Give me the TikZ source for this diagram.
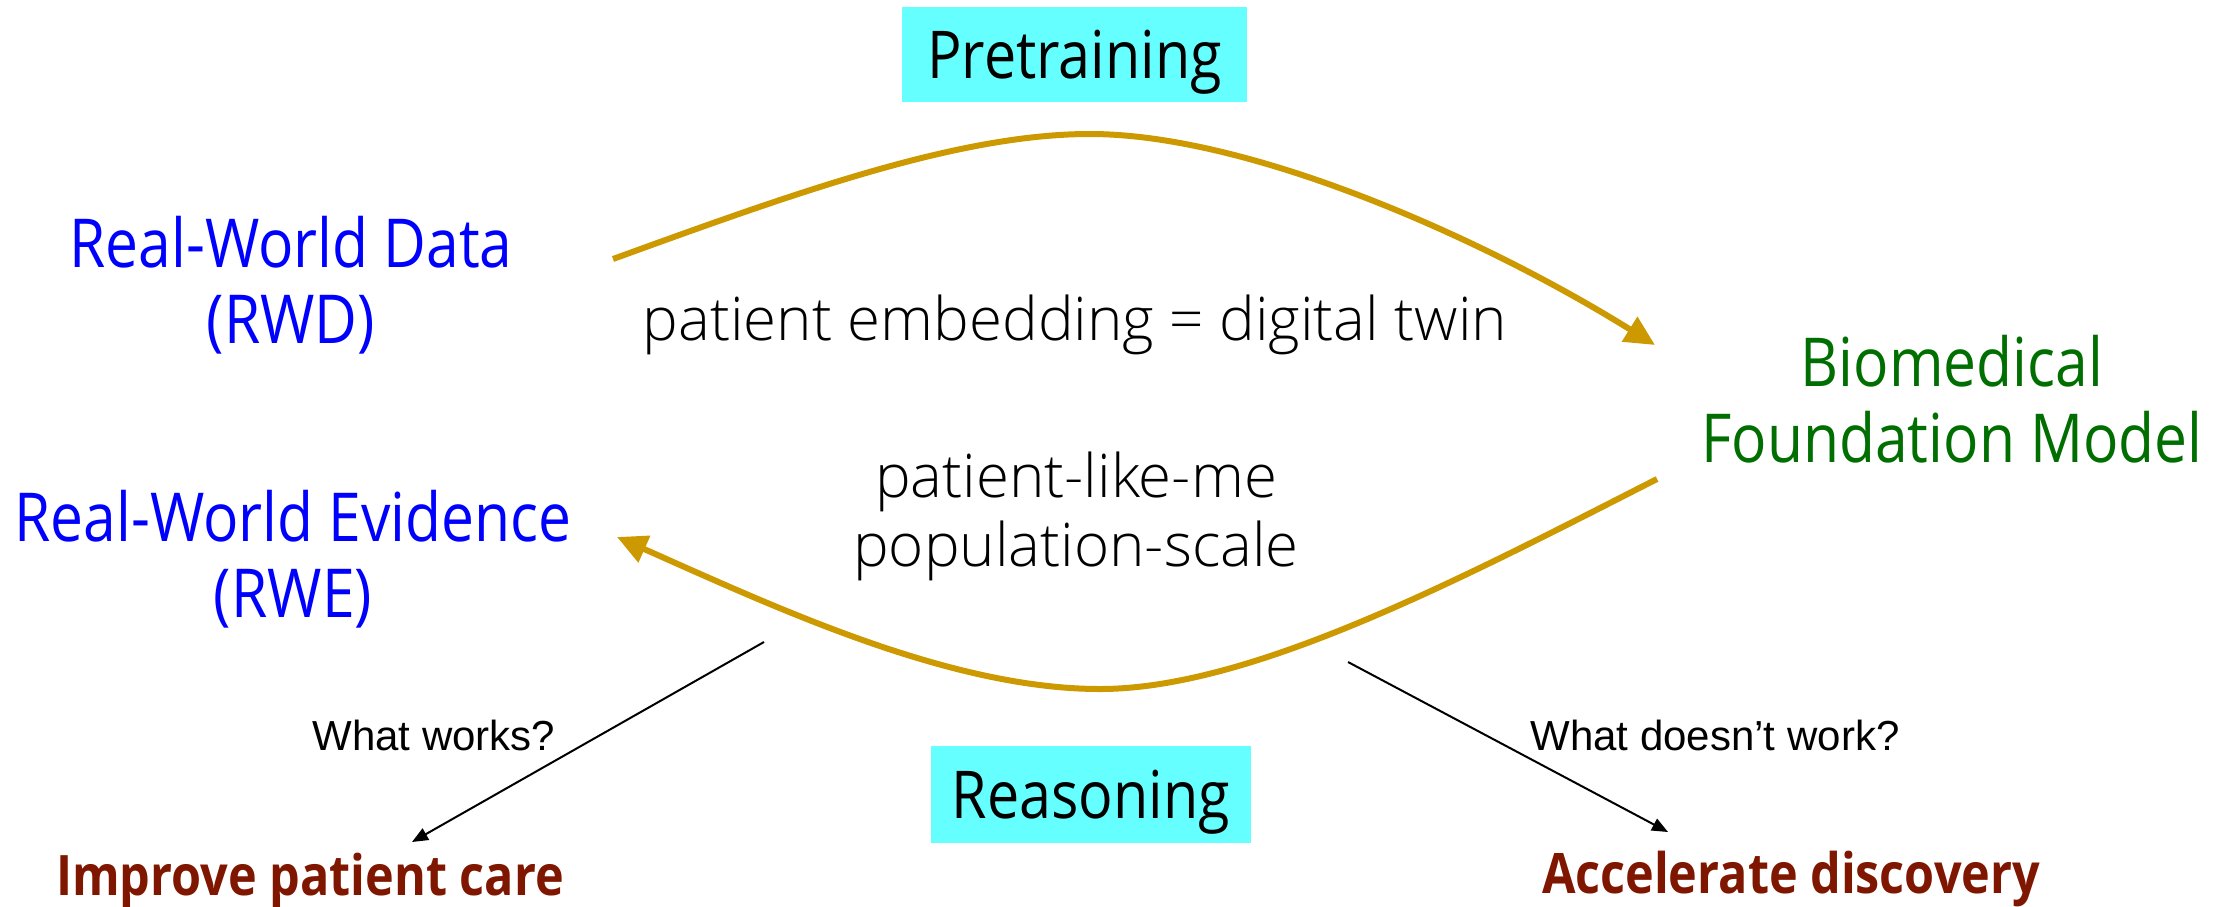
\documentclass[tikz,border=0pt]{standalone}
\usepackage{fontspec}
\setmainfont{Open Sans}[FakeStretch=0.87]
\IfFontExistsTF{Open Sans Light}
  {\newfontfamily\lightfont{Open Sans Light}}
  {\IfFontExistsTF{Noto Sans Light}
    {\newfontfamily\lightfont{Noto Sans Light}}
    {\newfontfamily\lightfont{Open Sans}}}
\newfontfamily\arialfont{Liberation Sans}
\usetikzlibrary{arrows.meta}
\definecolor{rwdblue}{HTML}{0000FF}
\definecolor{fmgreen}{HTML}{006E00}
\definecolor{outred}{HTML}{7F1600}
\definecolor{goldline}{HTML}{CC9900}
\definecolor{tagcyan}{HTML}{66FFFF}

\begin{document}
\begin{tikzpicture}[x=1pt, y=-1pt,
    side/.style={font=\fontsize{67.5}{76}\selectfont, align=center, anchor=base, inner sep=0pt},
    note/.style={font=\lightfont\fontsize{60}{69}\selectfont, align=center, anchor=base, inner sep=0pt},
    tagbox/.style={fill=tagcyan, font=\fontsize{66}{76}\selectfont, text height=47pt, text depth=0pt, inner sep=0pt},
    ask/.style={font=\arialfont\fontsize{42}{48}\selectfont, anchor=base, inner sep=0pt},
    goal/.style={font=\bfseries\fontsize{55.8}{60}\selectfont, text=outred, anchor=base, inner sep=0pt},
    flow/.style={draw=goldline, line width=6pt, -{Triangle[length=30pt, width=28pt]}},
    hint/.style={draw=black, line width=2pt, -{Triangle[length=16pt, width=13pt]}}]
  \useasboundingbox (0,0) rectangle (2221,906);

  \node[tagbox, minimum width=345pt, minimum height=95pt] (pre) at (1074.5,54.5) {Pretraining};
  \node[tagbox, minimum width=320pt, minimum height=97pt] (rsn) at (1091,794.5) {Reasoning};

  % two-line labels sit on the baseline of their last line
  \node[side, text=rwdblue] (rwd) at (291,343) {Real-World Data\\(RWD)};
  \node[side, text=rwdblue] (rwe) at (293,617) {Real-World Evidence\\(RWE)};
  \node[side, text=fmgreen] (bfm) at (1952,462) {Biomedical\\Foundation Model};

  \node[note] (twin) at (1075,340) {patient embedding = digital twin};
  \node[note] (plm) at (1076,566) {patient-like-me\\population-scale};

  \node[ask] (works) at (434,750) {What works?};
  \node[ask] (fails) at (1715,750) {What doesn’t work?};
  \node[goal] (care) at (310,895) {Improve patient care};
  \node[goal] (disc) at (1791,893) {Accelerate discovery};

  % gold loop
  \coordinate (pre-out) at (613,259);
  \coordinate (pre-top) at (1090,134);
  \coordinate (pre-in) at (1655,345);
  \coordinate (rsn-out) at (1657,479);
  \coordinate (rsn-low) at (1100,689);
  \coordinate (rsn-in) at (617,537);
  \draw[flow] (pre-out) .. controls (800,191) and (960,134) .. (pre-top)
    .. controls (1250,134) and (1485,239) .. (pre-in);
  \draw[flow] (rsn-out) .. controls (1457,581) and (1250,689) .. (rsn-low)
    .. controls (950,689) and (777,608) .. (rsn-in);

  % thin arrows to the outcomes
  \coordinate (works-from) at (764,642);
  \coordinate (works-to) at (412,842);
  \coordinate (fails-from) at (1348,662);
  \coordinate (fails-to) at (1668,832);
  \draw[hint] (works-from) -- (works-to);
  \draw[hint] (fails-from) -- (fails-to);
\end{tikzpicture}
\end{document}
